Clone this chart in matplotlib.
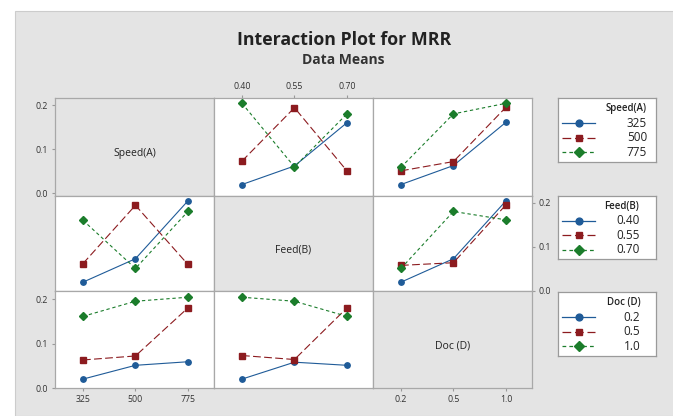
import matplotlib
matplotlib.use('Agg')
import matplotlib.pyplot as plt
from matplotlib.patches import Rectangle
import numpy as np

plt.rcParams['font.family'] = ['Open Sans', 'DejaVu Sans']

# factor names and levels
factors = ['Speed(A)', 'Feed(B)', 'Doc (D)']
speed = ['325', '500', '775']
feed = ['0.40', '0.55', '0.70']
doc = ['0.2', '0.5', '1.0']
levels = [speed, feed, doc]

# MRR data means, rows = levels of first factor, cols = levels of second factor
speed_feed = [[0.020, 0.062, 0.160],
              [0.073, 0.194, 0.051],
              [0.204, 0.060, 0.180]]
speed_doc = [[0.020, 0.063, 0.161],
             [0.051, 0.072, 0.195],
             [0.059, 0.180, 0.204]]
feed_doc = [[0.020, 0.073, 0.204],
            [0.058, 0.064, 0.195],
            [0.051, 0.180, 0.161]]
means = {(0, 1): speed_feed, (0, 2): speed_doc, (1, 2): feed_doc}

yticks = [0.0, 0.1, 0.2]
ytick_labels = ['0.0', '0.1', '0.2']

colors = ['#1f5b98', '#8c1b1f', '#1b7d2b']
markers = ['o', 's', 'D']
styles = ['-', (0, (7, 3)), (0, (3, 2.5))]
msizes = [3.9, 3.9, 3.6]

W, H = 673, 416
fig = plt.figure(figsize=(W / 100, H / 100), dpi=100)
fig.patch.set_facecolor('white')
bg = '#e4e4e4'
frame = Rectangle((15 / W, 0), 1, 1 - 11 / H, transform=fig.transFigure,
                  facecolor=bg, edgecolor='#cccccc', lw=0.8, zorder=-10)
fig.add_artist(frame)

fig.text(344 / W, 1 - 40 / H, 'Interaction Plot for MRR', ha='center', va='center',
         fontsize=12.8, fontweight='bold', color='#222222')
fig.text(343 / W, 1 - 60 / H, 'Data Means', ha='center', va='center',
         fontsize=10, fontweight='bold', color='#333333')

col_edges = [55, 214, 373, 532]
row_edges = [98, 196, 291, 388]
row_ylim = [(-0.006, 0.216), (0.0, 0.215), (0.0, 0.218)]


def cell(i, j):
    if (i, j) in means:
        return np.array(means[(i, j)])
    return np.array(means[(j, i)]).T


spine_col = '#a8a8a8'
tick_col = '#999999'
for i in range(3):
    for j in range(3):
        x0, x1 = col_edges[j], col_edges[j + 1]
        y0, y1 = row_edges[i], row_edges[i + 1]
        ax = fig.add_axes([x0 / W, 1 - y1 / H, (x1 - x0) / W, (y1 - y0) / H])
        ax.set_xlim(-0.533, 2.497)
        ax.set_ylim(*row_ylim[i])
        ax.set_xticks([0, 1, 2])
        ax.set_yticks(yticks)
        for s in ax.spines.values():
            s.set_color(spine_col)
            s.set_linewidth(0.9)
        ax.tick_params(which='both', left=False, right=False, top=False, bottom=False,
                       labelbottom=False, labelleft=False, labeltop=False,
                       labelright=False, labelsize=6.3, labelcolor='#333333',
                       length=2, color=tick_col, pad=3)
        if i == j:
            ax.set_facecolor(bg)
            ax.text(0.5, 0.43, factors[i], transform=ax.transAxes, ha='center',
                    va='center', fontsize=7.5, color='#222222')
        else:
            ax.set_facecolor('white')
            vals = cell(i, j)
            for k in range(3):
                ax.plot([0, 1, 2], vals[k], color=colors[k], linestyle=styles[k],
                        lw=0.8, marker=markers[k], ms=msizes[k], mec=colors[k],
                        mfc=colors[k])
        # axis labels like Minitab's matrix layout
        if (i, j) in [(0, 0), (2, 0)]:
            ax.tick_params(axis='y', left=True, labelleft=True)
            ax.set_yticklabels(ytick_labels)
        if (i, j) == (1, 2):
            ax.tick_params(axis='y', right=True, labelright=True)
            ax.set_yticklabels(ytick_labels)
        if (i, j) == (0, 1):
            ax.tick_params(axis='x', top=True, labeltop=True)
            ax.set_xticklabels(levels[j])
        if (i, j) in [(2, 0), (2, 2)]:
            ax.tick_params(axis='x', bottom=True, labelbottom=True)
            ax.set_xticklabels(levels[j])

# legends, one per row factor
leg_boxes = [(98, 162), (196, 259), (292, 356)]
text_right = [0.908, 0.83, 0.84]
for i in range(3):
    y0, y1 = leg_boxes[i]
    lax = fig.add_axes([558 / W, 1 - y1 / H, 98 / W, (y1 - y0) / H])
    lax.set_xlim(0, 1)
    lax.set_ylim(0, 1)
    lax.set_xticks([])
    lax.set_yticks([])
    lax.set_facecolor('white')
    for s in lax.spines.values():
        s.set_color('#9a9a9a')
        s.set_linewidth(0.9)
    lax.text(text_right[i], 0.83, factors[i], ha='right', va='center',
             fontsize=7, fontweight='semibold', color='#222222')
    rows_y = [0.605, 0.38, 0.15]
    for k in range(3):
        lax.plot([0.04, 0.21, 0.38], [rows_y[k]] * 3, color=colors[k],
                 linestyle=styles[k], lw=0.9, marker=markers[k], ms=msizes[k] + 1.0,
                 markevery=[1], mec=colors[k], mfc=colors[k])
        lax.text(text_right[i], rows_y[k], levels[i][k], ha='right', va='center',
                 fontsize=8.5, color='#222222')

fig.savefig('out.png', dpi=100)
